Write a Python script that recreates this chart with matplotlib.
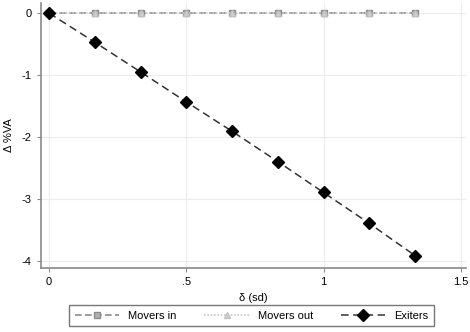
import matplotlib.pyplot as plt
from matplotlib.ticker import FuncFormatter

plt.rcParams['font.family'] = ['Liberation Sans', 'DejaVu Sans']

# shock size in sd units
delta = [0, 0.1667, 0.3333, 0.5, 0.6667, 0.8333, 1.0, 1.1667, 1.3333]
movers_in = [0, 0, 0, 0, 0, 0, 0, 0, 0]
movers_out = [0, 0, 0, 0, 0, 0, 0, 0, 0]
exiters = [0, -0.47, -0.95, -1.435, -1.91, -2.40, -2.90, -3.40, -3.92]

x_ticks = [0, 0.5, 1, 1.5]
y_ticks = [0, -1, -2, -3, -4]

fig = plt.figure(figsize=(4.7, 3.32), dpi=100)
ax = fig.add_axes([0.087, 0.193, 0.905, 0.797])

ax.plot(delta, movers_in, linestyle=(0, (4, 2)), color='#8c8c8c', lw=1.2,
        marker='s', ms=5, mfc='#b0b0b0', mec='#8c8c8c', label='Movers in')
ax.plot(delta, movers_out, linestyle=(0, (1, 1)), color='#c8c8c8', lw=1.2,
        marker='^', ms=5, mfc='#d0d0d0', mec='#c0c0c0', label='Movers out')
ax.plot(delta, exiters, linestyle=(0, (5, 3)), color='#333333', lw=1.1,
        marker='D', ms=6, mfc='black', mec='black', label='Exiters')

ax.set_xlim(-0.03, 1.52)
ax.set_ylim(-4.12, 0.16)
ax.set_xticks(x_ticks)
ax.set_yticks(y_ticks)

def stata_fmt(v, pos):
    s = f'{v:g}'
    if s.startswith('0.'):
        s = s[1:]
    return s

ax.xaxis.set_major_formatter(FuncFormatter(stata_fmt))
ax.yaxis.set_major_formatter(FuncFormatter(stata_fmt))

ax.grid(True, color='#ececec', lw=0.8)
ax.set_axisbelow(True)
for side in ['top', 'right']:
    ax.spines[side].set_visible(False)
for side in ['left', 'bottom']:
    ax.spines[side].set_color('#8a8a8a')
    ax.spines[side].set_linewidth(1.2)
ax.tick_params(axis='both', labelsize=8, color='#8a8a8a', length=3, width=0.8)

ax.set_xlabel('δ (sd)', fontsize=8, labelpad=4)
ax.set_ylabel('Δ %VA', fontsize=8)
ax.yaxis.set_label_coords(-0.064, 0.5)

fig.legend(loc='lower center', bbox_to_anchor=(0.535, 0.0), ncol=3, fontsize=8,
           frameon=True, fancybox=False, edgecolor='#555555', handlelength=4,
           columnspacing=2.5, borderpad=0.5)

fig.savefig('out.png', dpi=100)
